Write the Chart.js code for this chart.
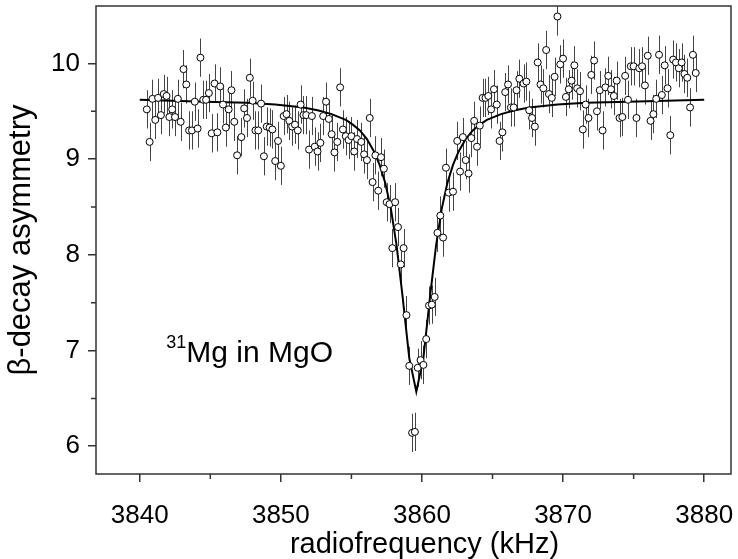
<!DOCTYPE html>
<html lang="en">
<head>
  <meta charset="UTF-8" />
  <title>31Mg in MgO resonance</title>
  <script src="https://cdn.jsdelivr.net/npm/chart.js"></script>
  <style>
    html, body { margin: 0; padding: 0; background: #fff; }
    .chart-box { width: 738px; height: 559px; }
  </style>
</head>
<body>
  <div class="chart-box"><canvas id="nmrChart"></canvas></div>

  <script>
    // measured points: radiofrequency (kHz) and beta-decay asymmetry
    const freq = [
      3840.5, 3840.7, 3840.9, 3841.1, 3841.3, 3841.5, 3841.7, 3841.9, 3842.1, 3842.3,
      3842.5, 3842.7, 3842.9, 3843.1, 3843.3, 3843.5, 3843.7, 3843.9, 3844.1, 3844.3,
      3844.5, 3844.7, 3844.9, 3845.1, 3845.3, 3845.5, 3845.7, 3845.9, 3846.1, 3846.3,
      3846.5, 3846.7, 3846.9, 3847.2, 3847.4, 3847.6, 3847.8, 3848.0, 3848.2, 3848.4,
      3848.6, 3848.8, 3849.0, 3849.2, 3849.4, 3849.6, 3849.8, 3850.0, 3850.2, 3850.4,
      3850.6, 3850.8, 3851.0, 3851.2, 3851.4, 3851.6, 3851.8, 3852.0, 3852.2, 3852.4,
      3852.6, 3852.8, 3853.0, 3853.2, 3853.4, 3853.6, 3853.8, 3854.0, 3854.2, 3854.4,
      3854.6, 3854.8, 3855.0, 3855.2, 3855.4, 3855.7, 3855.9, 3856.1, 3856.3, 3856.5,
      3856.7, 3856.9, 3857.1, 3857.3, 3857.5, 3857.7, 3857.9, 3858.1, 3858.3, 3858.5,
      3858.7, 3858.9, 3859.1, 3859.3, 3859.5, 3859.7, 3859.9, 3860.1, 3860.3, 3860.5,
      3860.7, 3860.9, 3861.1, 3861.3, 3861.5, 3861.7, 3861.9, 3862.2, 3862.5, 3862.7,
      3862.9, 3863.1, 3863.3, 3863.5, 3863.7, 3863.9, 3864.1, 3864.3, 3864.5, 3864.7,
      3864.9, 3865.1, 3865.3, 3865.5, 3865.7, 3865.9, 3866.1, 3866.3, 3866.5, 3866.7,
      3866.9, 3867.2, 3867.4, 3867.6, 3867.8, 3868.0, 3868.2, 3868.4, 3868.6, 3868.8,
      3869.0, 3869.2, 3869.4, 3869.6, 3869.8, 3870.0, 3870.2, 3870.4, 3870.6, 3870.8,
      3871.0, 3871.2, 3871.4, 3871.6, 3871.8, 3872.0, 3872.2, 3872.4, 3872.6, 3872.8,
      3873.0, 3873.2, 3873.4, 3873.6, 3873.8, 3874.0, 3874.2, 3874.4, 3874.6, 3874.8,
      3875.0, 3875.2, 3875.4, 3875.6, 3875.8, 3876.0, 3876.2, 3876.4, 3876.6, 3876.8,
      3877.0, 3877.2, 3877.4, 3877.6, 3877.8, 3878.0, 3878.2, 3878.4, 3878.6, 3878.8,
      3879.0, 3879.2, 3879.4
    ];
    const asym = [
      9.52, 9.18, 9.63, 9.41, 9.64, 9.46, 9.68, 9.66, 9.44, 9.52,
      9.44, 9.63, 9.39, 9.94, 9.78, 9.30, 9.30, 9.60, 9.32, 10.06,
      9.62, 9.62, 9.69, 9.27, 9.79, 9.28, 9.76, 9.57, 9.33, 9.52,
      9.72, 9.39, 9.04, 9.23, 9.53, 9.43, 9.85, 9.61, 9.30, 9.30,
      9.58, 9.03, 9.34, 9.33, 9.31, 8.98, 9.19, 8.93, 9.45, 9.47,
      9.40, 9.34, 9.36, 9.30, 9.57, 9.46, 9.46, 9.10, 9.45, 9.13,
      9.08, 9.17, 9.45, 9.60, 9.42, 9.26, 9.07, 9.18, 9.75, 9.31,
      9.24, 9.20, 9.24, 9.08, 9.21, 9.18, 9.05, 8.99, 9.43, 8.76,
      9.04, 8.67, 9.02, 8.90, 8.55, 8.53, 8.07, 8.55, 8.29, 7.90,
      8.07, 7.37, 6.84, 6.14, 6.15, 6.82, 6.90, 6.85, 7.12, 7.47,
      7.48, 7.56, 8.23, 8.41, 8.18, 8.91, 8.65, 8.66, 9.19, 8.87,
      9.23, 8.99, 8.85, 9.22, 9.40, 9.13, 9.35, 9.64, 9.64, 9.66,
      9.52, 9.73, 9.57, 9.19, 9.28, 9.70, 9.78, 9.54, 9.54, 9.72,
      9.84, 9.79, 9.81, 9.51, 9.43, 9.34, 10.01, 9.78, 9.74, 10.14,
      9.68, 9.64, 9.86, 10.49, 9.99, 10.05, 9.65, 9.73, 9.82, 9.98,
      9.74, 9.71, 9.31, 9.57, 9.43, 9.88, 10.03, 9.50, 9.72, 9.30,
      9.75, 9.87, 9.73, 9.66, 9.82, 9.43, 9.44, 9.87, 9.62, 9.97,
      9.97, 9.43, 9.95, 9.97, 9.77, 10.08, 9.40, 9.47, 9.63, 10.09,
      9.67, 9.98, 9.74, 9.25, 10.04, 10.01, 9.95, 10.01, 9.89, 9.85,
      9.54, 10.09, 9.90
    ];
    const asymErr = 0.2;   // half length of the error bars

    // fitted resonance curve
    const fitFreq = [
      3840.0, 3844.6, 3847.6, 3849.6, 3851.6, 3852.6, 3853.6, 3854.6, 3855.1, 3855.6,
      3856.1, 3856.6, 3857.0, 3857.4, 3857.8, 3858.2, 3858.6, 3859.1, 3859.6, 3860.1,
      3860.6, 3861.0, 3861.4, 3861.8, 3862.2, 3862.6, 3863.1, 3863.6, 3864.1, 3864.6,
      3865.6, 3866.6, 3867.6, 3869.6, 3871.6, 3874.6, 3880.0
    ];
    const fitAsym = [
      9.62, 9.60, 9.59, 9.57, 9.54, 9.51, 9.47, 9.41, 9.36, 9.30,
      9.21, 9.08, 8.94, 8.75, 8.48, 8.10, 7.60, 6.92, 6.57, 6.92,
      7.60, 8.10, 8.48, 8.75, 8.94, 9.08, 9.21, 9.30, 9.36, 9.41,
      9.47, 9.51, 9.54, 9.57, 9.59, 9.60, 9.62
    ];

    const xTicks = [3840, 3850, 3860, 3870, 3880];
    const xMinorTicks = [3845, 3855, 3865, 3875];
    const yTicks = [6, 7, 8, 9, 10];
    const yMinorTicks = [6.5, 7.5, 8.5, 9.5];

    const labelAt = [3843.3, 6.88];
    const fontFamily = '"Liberation Sans", Arial, Helvetica, sans-serif';

    const errorBars = {
      id: 'errorBars',
      beforeDatasetsDraw(chart) {
        const { ctx, chartArea: a, scales: { x, y } } = chart;
        ctx.save();
        ctx.beginPath();
        ctx.rect(a.left, a.top, a.right - a.left, a.bottom - a.top);
        ctx.clip();
        ctx.strokeStyle = '#444';
        ctx.lineWidth = 1;
        ctx.beginPath();
        freq.forEach((f, i) => {
          const px = Math.round(x.getPixelForValue(f)) + 0.5;
          ctx.moveTo(px, y.getPixelForValue(asym[i] + asymErr));
          ctx.lineTo(px, y.getPixelForValue(asym[i] - asymErr));
        });
        ctx.stroke();
        ctx.restore();
      }
    };

    const frameAndLabels = {
      id: 'frameAndLabels',
      afterDraw(chart) {
        const { ctx, chartArea: a, scales: { x, y } } = chart;
        ctx.save();
        ctx.strokeStyle = '#333';
        ctx.lineWidth = 1.5;
        ctx.strokeRect(a.left, a.top, a.right - a.left, a.bottom - a.top);
        ctx.beginPath();
        xMinorTicks.forEach(v => {
          const px = x.getPixelForValue(v);
          ctx.moveTo(px, a.bottom);
          ctx.lineTo(px, a.bottom + 5);
        });
        yMinorTicks.forEach(v => {
          const py = y.getPixelForValue(v);
          ctx.moveTo(a.left - 5, py);
          ctx.lineTo(a.left, py);
        });
        ctx.stroke();

        ctx.fillStyle = '#000';

        // x axis title (sits a little right of centre in the original)
        ctx.font = '29px ' + fontFamily;
        ctx.textAlign = 'center';
        ctx.textBaseline = 'middle';
        ctx.fillText('radiofrequency (kHz)', (a.left + a.right) / 2 + 11, 545);

        // sample label
        const px = x.getPixelForValue(labelAt[0]);
        const py = y.getPixelForValue(labelAt[1]);
        ctx.textBaseline = 'alphabetic';
        ctx.font = '30px ' + fontFamily;
        ctx.textAlign = 'left';
        ctx.fillText('Mg in MgO', px, py);
        ctx.font = '18px ' + fontFamily;
        ctx.textAlign = 'right';
        ctx.fillText('31', px, py - 14);
        ctx.restore();
      }
    };

    const ctx = document.getElementById('nmrChart').getContext('2d');
    new Chart(ctx, {
      type: 'scatter',
      data: {
        datasets: [
          {
            label: 'data',
            data: freq.map((f, i) => ({ x: f, y: asym[i] })),
            pointRadius: 3.5,
            pointBorderWidth: 1,
            pointBorderColor: '#000',
            pointBackgroundColor: '#fff',
            order: 0
          },
          {
            type: 'line',
            label: 'fit',
            data: fitFreq.map((f, i) => ({ x: f, y: fitAsym[i] })),
            borderColor: '#000',
            borderWidth: 2,
            pointRadius: 0,
            tension: 0,
            fill: false,
            order: 1
          }
        ]
      },
      options: {
        responsive: true,
        maintainAspectRatio: false,
        animation: false,
        layout: { padding: { top: 6, right: 7, left: 0, bottom: 0 } },
        plugins: {
          legend: { display: false },
          tooltip: { enabled: false }
        },
        scales: {
          x: {
            type: 'linear',
            min: 3836.9,
            max: 3881.9,
            afterBuildTicks: s => { s.ticks = xTicks.map(v => ({ value: v })); },
            afterFit: s => { s.height = 85; s.paddingLeft = 0; s.paddingRight = 0; },
            border: { display: false },
            grid: { drawOnChartArea: false, tickLength: 8, color: '#333', lineWidth: 1.5 },
            ticks: {
              color: '#000',
              font: { family: fontFamily, size: 26 },
              padding: 18,
              maxRotation: 0,
              callback: v => String(v)
            },
            title: { display: false }
          },
          y: {
            type: 'linear',
            min: 5.71,
            max: 10.6,
            afterBuildTicks: s => { s.ticks = yTicks.map(v => ({ value: v })); },
            afterFit: s => { s.width = 96; s.paddingTop = 0; s.paddingBottom = 0; },
            border: { display: false },
            grid: { drawOnChartArea: false, tickLength: 8, color: '#333', lineWidth: 1.5 },
            ticks: {
              color: '#000',
              font: { family: fontFamily, size: 26 },
              padding: 8,
              callback: v => String(v)
            },
            title: {
              display: true,
              text: 'β-decay asymmetry',
              color: '#000',
              font: { family: fontFamily, size: 31 },
              padding: { top: 3, bottom: 0 }
            }
          }
        }
      },
      plugins: [errorBars, frameAndLabels]
    });
  </script>
</body>
</html>
